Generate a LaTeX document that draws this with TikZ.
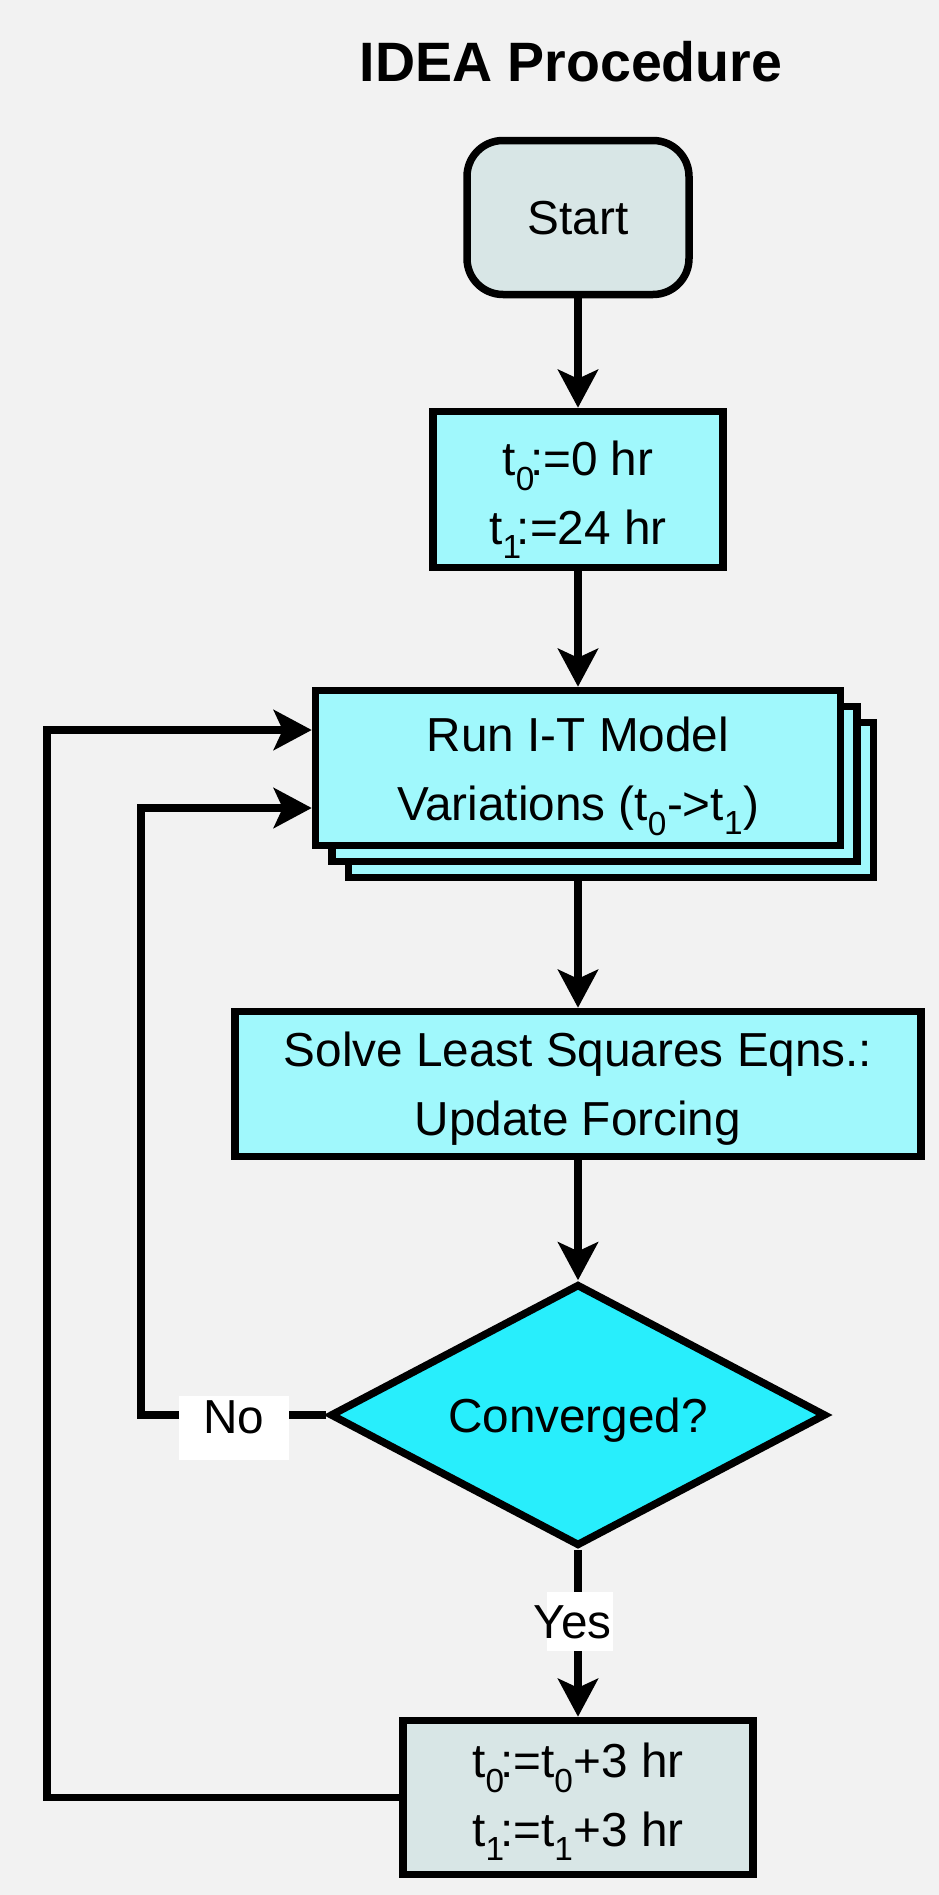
\documentclass[tikz,border=0pt]{standalone}
\usepackage{fontspec}
\setmainfont{Liberation Sans}
\usetikzlibrary{arrows.meta,shapes.geometric}

\definecolor{bgcol}{RGB}{242,242,242}
\definecolor{termfill}{RGB}{216,230,230}
\definecolor{procfill}{RGB}{160,248,252}
\definecolor{decfill}{RGB}{40,238,252}

% subscript with the colon tucked in after it
\newcommand{\tsub}[1]{\textsubscript{#1}\kern-0.1em}
% invisible prop that sets the height of a first line
\newcommand{\lift}[1]{\rule{0pt}{#1}}

\begin{document}
\begin{tikzpicture}[x=1pt,y=-1pt,
  every node/.style={font=\fontsize{47.7}{69}\selectfont, align=center, inner sep=0pt},
  frame/.style={draw=black, line width=7.5pt},
  terminal/.style={frame, fill=termfill, rounded corners=36pt,
    minimum width=222pt, minimum height=154pt, text height=34pt, text depth=0pt},
  process/.style={frame, fill=procfill},
  grayproc/.style={frame, fill=termfill},
  runbox/.style={process, minimum width=525pt, minimum height=155pt},
  decision/.style={frame, fill=decfill, diamond, aspect=1.9,
    minimum width=496pt, minimum height=262pt, text height=34pt, text depth=0pt},
  flow/.style={line width=7.5pt, -{Stealth[length=38pt,width=40pt,inset=9pt]}},
  tagbox/.style={fill=white},
  captext/.style={text height=34pt, text depth=0pt},
  titletext/.style={font=\fontsize{55.5}{66}\selectfont\bfseries, text height=39.7pt, text depth=0pt},
]
\path[use as bounding box, fill=bgcol] (0,0) rectangle (939,1895);

\node[titletext] (title) at (571,62) {IDEA Procedure};

\node[terminal] (start) at (578,217.5) {Start};

\node[process, minimum width=290pt, minimum height=156pt] (init) at (578,489.5)
  {\lift{55pt}t\tsub{0}:=0 hr\\t\tsub{1}:=24 hr};

% stacked boxes for the model variations
\node[runbox] (runC) at (611,800) {};
\node[runbox] (runB) at (594.5,784) {};
\node[runbox] (run) at (578,768) {\lift{51pt}Run I-T Model\\Variations (t\textsubscript{0}->t\textsubscript{1})};

\node[process, minimum width=686pt, minimum height=145pt] (solve) at (578,1084)
  {\lift{43pt}Solve Least Squares Eqns.:\\Update Forcing};

\node[decision] (dec) at (578,1415) {Converged?};

\node[grayproc, minimum width=350pt, minimum height=154pt] (last) at (578,1797.5)
  {\lift{43pt}t\tsub{0}:=t\textsubscript{0}+3 hr\\t\tsub{1}:=t\textsubscript{1}+3 hr};

% main flow
\draw[flow] (start.south) -- (init.north);
\draw[flow] (init.south) -- (run.north);
\draw[flow] (run.south |- runC.south) -- (solve.north);
\draw[flow] (solve.south) -- (dec.north);
\draw[flow] (dec.south) -- (last.north);

% feedback loops
\coordinate (backIn) at (141,808);
\coordinate (backOut) at (47,730);
\draw[flow] (dec.west) -| (backIn) -- (run.west |- backIn);
\draw[flow] (last.west) -| (backOut) -- (run.west |- backOut);

% branch labels
\node[tagbox, text height=37pt, text depth=27pt, minimum width=110pt] (no) at (234,1428) {No};
\node[tagbox, minimum width=66pt, minimum height=59pt] (yesbg) at (580,1621.5) {};
\node[captext] (yes) at (572.5,1621.5) {Yes};
\end{tikzpicture}
\end{document}
